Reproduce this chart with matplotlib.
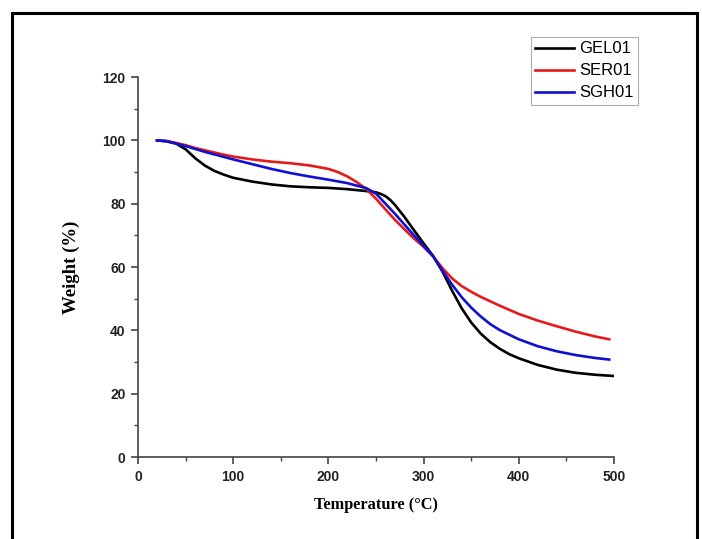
import matplotlib
matplotlib.use("Agg")
import matplotlib.pyplot as plt
from matplotlib.patches import Rectangle

# TGA curves
temp_gel = [20, 30, 40, 50, 60, 70, 80, 90, 100, 120, 140, 160, 180, 200, 220, 240, 250, 255, 260, 265, 270,
            280, 290, 300, 310, 320, 330, 340, 350, 360, 370, 380, 390, 400, 420, 440, 460, 480, 500]
wt_gel = [100, 99.7, 99.0, 97.2, 94.4, 92.1, 90.4, 89.2, 88.2, 87.0, 86.1, 85.5, 85.2, 85.0, 84.6, 84.0, 83.6, 83.1, 82.4, 81.2, 79.6,
          75.8, 71.6, 67.5, 63.5, 58.5, 52.5, 47.0, 42.5, 39.0, 36.3, 34.2, 32.5, 31.2, 29.1, 27.6, 26.6, 26.0, 25.6]

temp_ser = [20, 30, 40, 50, 60, 70, 80, 90, 100, 120, 140, 160, 180, 200, 210, 220, 230, 240, 250, 260, 270,
            280, 290, 300, 310, 320, 330, 340, 350, 360, 380, 400, 420, 440, 460, 480, 495]
wt_ser = [100, 99.8, 99.2, 98.5, 97.6, 96.9, 96.2, 95.5, 94.9, 94.0, 93.3, 92.8, 92.1, 91.0, 90.0, 88.6, 86.8, 84.6, 81.6, 78.2, 74.9,
          71.9, 69.0, 66.4, 63.4, 59.6, 56.4, 54.0, 52.2, 50.6, 47.8, 45.2, 43.1, 41.3, 39.6, 38.1, 37.2]

temp_sgh = [20, 30, 40, 50, 60, 70, 80, 90, 100, 120, 140, 160, 180, 200, 220, 240, 250, 260, 270,
            280, 290, 300, 310, 320, 330, 340, 350, 360, 370, 380, 400, 420, 440, 460, 480, 495]
wt_sgh = [100, 99.8, 99.0, 98.2, 97.3, 96.4, 95.6, 94.8, 94.0, 92.5, 91.0, 89.7, 88.6, 87.6, 86.5, 84.9, 83.2, 80.0, 76.8,
          73.4, 70.0, 66.7, 63.4, 58.8, 54.4, 50.5, 47.2, 44.4, 42.0, 40.1, 37.2, 35.0, 33.4, 32.2, 31.3, 30.8]

xticks = [0, 100, 200, 300, 400, 500]
yticks = [0, 20, 40, 60, 80, 100, 120]

fig = plt.figure(figsize=(7.02, 5.39), dpi=100)
ax = fig.add_axes([0.1966, 0.152, 0.678, 0.705])

ax.plot(temp_gel, wt_gel, color="black", lw=1.9, label="GEL01")
ax.plot(temp_ser, wt_ser, color="#e41a1c", lw=1.9, label="SER01")
ax.plot(temp_sgh, wt_sgh, color="#1010d0", lw=1.9, label="SGH01")

ax.set_xlim(0, 500)
ax.set_ylim(0, 120)
ax.set_xticks(xticks)
ax.set_yticks(yticks)
ax.set_xticks([50, 150, 250, 350, 450], minor=True)
ax.set_yticks([10, 30, 50, 70, 90, 110], minor=True)
for side in ["top", "right"]:
    ax.spines[side].set_visible(False)
for side in ["left", "bottom"]:
    ax.spines[side].set_color("#444444")
    ax.spines[side].set_linewidth(1.2)
ax.tick_params(which="major", direction="out", length=5, width=1.2, color="#444444", pad=4)
ax.tick_params(which="minor", direction="out", length=3, width=1.0, color="#444444")
for lab in ax.get_xticklabels() + ax.get_yticklabels():
    lab.set_fontfamily("Liberation Sans")
    lab.set_fontweight("bold")
    lab.set_fontsize(10)
    lab.set_color("#222222")

ax.set_xlabel("Temperature (°C)", fontfamily="Liberation Serif", fontweight="bold", fontsize=11.8, labelpad=10)
ax.set_ylabel("Weight (%)", fontfamily="Liberation Serif", fontweight="bold", fontsize=13.5, labelpad=16)

leg = ax.legend(loc="upper left", bbox_to_anchor=(0.826, 1.105), frameon=True, fancybox=False,
                prop={"family": "Liberation Sans", "size": 12}, handlelength=2.35, handletextpad=0.3,
                labelspacing=0.42, borderpad=0.25, borderaxespad=0)
leg.get_frame().set_edgecolor("#999999")
leg.get_frame().set_linewidth(0.8)

# outer frame of the figure
fig.patches.append(Rectangle((12 / 702, -0.05), 685 / 702, 1.05 - 13 / 539, transform=fig.transFigure,
                             fill=False, edgecolor="black", lw=2.2))

fig.savefig("out.png", dpi=100)
